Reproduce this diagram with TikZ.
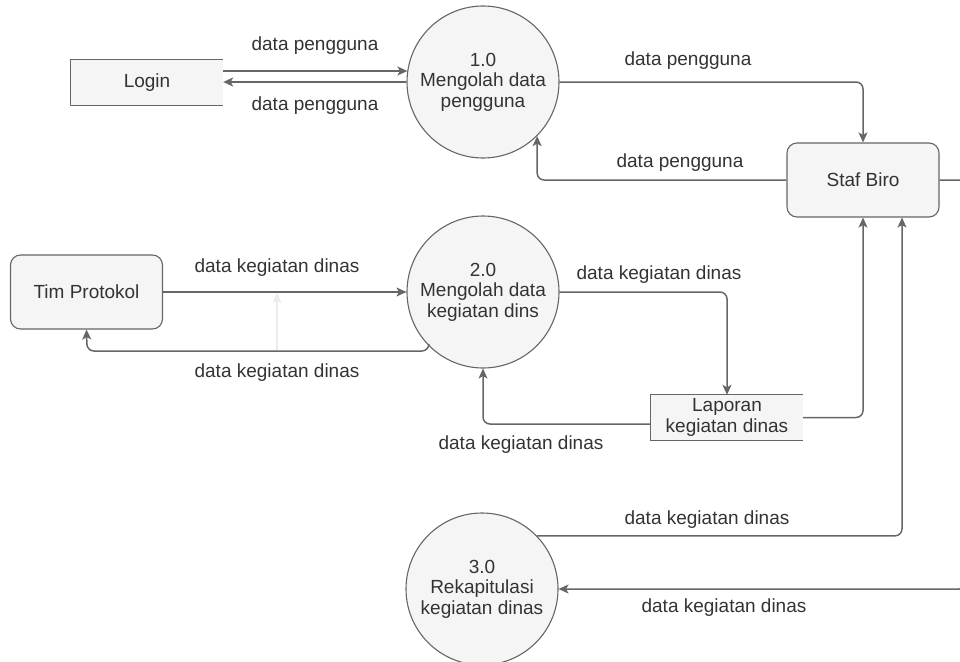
\documentclass[tikz,border=0pt]{standalone}
\usepackage{fontspec}
\setmainfont{Liberation Sans}
\usetikzlibrary{arrows.meta,calc}
\definecolor{lc}{HTML}{666666}
\definecolor{fc}{HTML}{F5F5F5}
\definecolor{tc}{HTML}{333333}
\definecolor{faint}{HTML}{EBEBEB}
\begin{document}
\begin{tikzpicture}[x=1pt,y=-1pt,
  every node/.style={text=tc,font=\fontsize{19}{20.5}\selectfont},
  conn/.style={draw=lc,line width=1.5pt,rounded corners=7pt,-{Stealth[length=10pt,width=9pt,inset=2.5pt]}},
  procc/.style={circle,draw=lc,fill=fc,line width=1.1pt,minimum size=152pt,inner sep=0pt,align=center},
  entity/.style={rectangle,rounded corners=10pt,draw=lc,fill=fc,line width=1.1pt,minimum width=152pt,minimum height=74pt,inner sep=0pt,align=center},
  store/.style={rectangle,fill=fc,minimum width=152pt,minimum height=45pt,inner sep=0pt,align=center},
  storeline/.style={draw=lc,line width=1.1pt},
  lbl/.style={inner sep=0pt}
]
\useasboundingbox (0,0) rectangle (960,661);
\clip (0,0) rectangle (960,661);

% nodes
\node[store] (login) at (147,82.5) {Login};
\draw[storeline] (login.north east) -- (login.north west) -- (login.south west) -- (login.south east);
\node[store] (lap) at (727,417.5) {Laporan\\kegiatan dinas};
\draw[storeline] (lap.north east) -- (lap.north west) -- (lap.south west) -- (lap.south east);
\node[entity] (staf) at (863,180) {Staf Biro};
\node[entity] (tim) at (86.5,292) {Tim Protokol};
\node[procc] (p1) at (483,82) {1.0\\Mengolah data\\pengguna};
\node[procc] (p2) at (483,292) {2.0\\Mengolah data\\kegiatan dins};
\node[procc] (p3) at (482,589) {3.0\\Rekapitulasi\\kegiatan dinas};

% coordinates
\coordinate (c1) at (87,351);
\coordinate (e1) at (966,180);
\coordinate (e2) at (966,589);
\coordinate (f1) at (277,351);
\coordinate (f2) at (277,293);
\coordinate (a1) at ([yshift=11.5pt]login.east);

% faint arrow
\draw[draw=faint,line width=1.3pt,-{Stealth[length=10pt,width=9pt,inset=2.5pt]}] (f1) -- (f2);

% connectors
\draw[conn] (a1) -- (a1 -| p1.171.7);
\draw[conn] (p1.west) -- (p1.west -| login.east);
\draw[conn] (p1.east) -| (staf.north);
\draw[conn] (staf.west) -| (p1.-45);
\draw[conn] (tim.east) -- (p2.west);
\draw[conn] (p2.-135) |- (c1) -- (tim.south);
\draw[conn] (p2.east) -| (lap.north);
\draw[conn] ([yshift=-6.5pt]lap.west) -| (p2.south);
\draw[conn] (lap.east) -| (staf.south);
\draw[conn] (p3.44) -| ([xshift=39pt]staf.south);
\draw[conn] (staf.east) -- (e1) -- (e2) -- (p3.east);

% labels
\node[lbl] (l1) at (315,46) {data pengguna};
\node[lbl] (l2) at (315,106) {data pengguna};
\node[lbl] (l3) at (688,61) {data pengguna};
\node[lbl] (l4) at (680,163) {data pengguna};
\node[lbl] (l5) at (277,268) {data kegiatan dinas};
\node[lbl] (l6) at (277,373) {data kegiatan dinas};
\node[lbl] (l7) at (659,275) {data kegiatan dinas};
\node[lbl] (l8) at (521,445) {data kegiatan dinas};
\node[lbl] (l9) at (707,520) {data kegiatan dinas};
\node[lbl] (l10) at (724,608) {data kegiatan dinas};
\end{tikzpicture}
\end{document}
